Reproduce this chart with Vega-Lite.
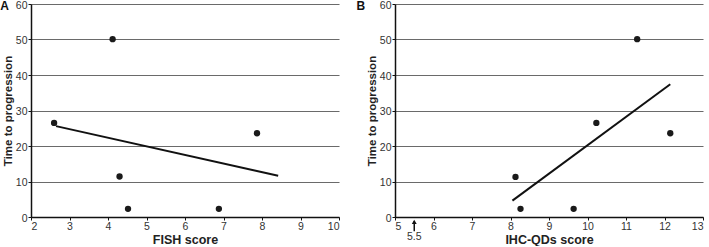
{
  "$schema": "https://vega.github.io/schema/vega-lite/v6.json",
  "background": "white",
  "padding": {"left": 0, "top": 0, "right": 2, "bottom": 0},
  "bounds": "flush",
  "spacing": 56,
  "config": {
    "font": "Liberation Sans",
    "view": {"stroke": null},
    "axis": {
      "labelFont": "Liberation Sans",
      "labelFontSize": 10.5,
      "labelColor": "#333333",
      "labelOverlap": false,
      "titleFont": "Liberation Sans",
      "titleFontSize": 11.5,
      "titleFontWeight": "bold",
      "titleColor": "#222222",
      "domainColor": "#111111",
      "domainWidth": 1.5,
      "tickColor": "#111111",
      "tickSize": 3
    }
  },
  "datasets": {
    "fishPts": [
      {"score": 2.6, "ttp": 26.5},
      {"score": 4.12, "ttp": 50.1},
      {"score": 4.3, "ttp": 11.4},
      {"score": 4.52, "ttp": 2.3},
      {"score": 6.88, "ttp": 2.3},
      {"score": 7.87, "ttp": 23.6}
    ],
    "fishLine": [
      {"score": 2.65, "ttp": 25.6},
      {"score": 8.42, "ttp": 11.6}
    ],
    "ihcPts": [
      {"score": 8.13, "ttp": 11.3},
      {"score": 8.26, "ttp": 2.3},
      {"score": 9.64, "ttp": 2.3},
      {"score": 10.23, "ttp": 26.5},
      {"score": 11.29, "ttp": 50.1},
      {"score": 12.15, "ttp": 23.6}
    ],
    "ihcLine": [
      {"score": 8.05, "ttp": 4.6},
      {"score": 12.15, "ttp": 37.4}
    ],
    "cutoff": [
      {"score": 5.5, "ttp": 0, "label": "5.5"}
    ],
    "panelA": [{"panel": "A", "score": 2, "ttp": 60}],
    "panelB": [{"panel": "B", "score": 5, "ttp": 60}]
  },
  "hconcat": [
    {
      "width": 308,
      "height": 213,
      "encoding": {
        "x": {"field": "score", "type": "quantitative",
              "scale": {"domain": [2, 10], "nice": false, "zero": false},
              "axis": {"title": "FISH score", "titleFontSize": 12.5, "values": [2,3,4,5,6,7,8,9,10], "tickCount": 9, "labelOverlap": false, "grid": false, "labelPadding": 1, "titlePadding": 2}},
        "y": {"field": "ttp", "type": "quantitative",
              "scale": {"domain": [0, 60], "nice": false},
              "axis": {"title": "Time to progression", "values": [0,10,20,30,40,50,60], "tickCount": 7, "labelOverlap": false, "grid": true, "gridColor": "#6a6a6a", "gridWidth": 1.2, "gridOpacity": 1, "labelPadding": 1, "labelOffset": 1, "titlePadding": 2}}
      },
      "layer": [
        {
          "data": {"name": "fishPts"},
          "mark": {"type": "point", "filled": true, "size": 40, "color": "#1a1a1a", "opacity": 1}
        },
        {
          "data": {"name": "fishLine"},
          "mark": {"type": "line", "color": "#111111", "strokeWidth": 2}
        },
        {
          "data": {"name": "panelA"},
          "mark": {"type": "text", "fontSize": 12, "fontWeight": "bold", "color": "#111111", "align": "left", "baseline": "middle"},
          "encoding": {
            "x": {"datum": 1.2, "type": "quantitative"},
            "y": {"datum": 59.4, "type": "quantitative"},
            "text": {"field": "panel", "type": "nominal"}
          }
        }
      ]
    },
    {
      "width": 308,
      "height": 213,
      "encoding": {
        "x": {"field": "score", "type": "quantitative",
              "scale": {"domain": [5, 13], "nice": false, "zero": false},
              "axis": {"title": "IHC-QDs score", "titleFontSize": 12.5, "values": [5,6,7,8,9,10,11,12,13], "tickCount": 9, "labelOverlap": false, "grid": false, "labelPadding": 1, "titlePadding": 2}},
        "y": {"field": "ttp", "type": "quantitative",
              "scale": {"domain": [0, 60], "nice": false},
              "axis": {"title": "Time to progression", "values": [0,10,20,30,40,50,60], "tickCount": 7, "labelOverlap": false, "grid": true, "gridColor": "#6a6a6a", "gridWidth": 1.2, "gridOpacity": 1, "labelPadding": 1, "labelOffset": 1, "titlePadding": 2}}
      },
      "layer": [
        {
          "data": {"name": "ihcPts"},
          "mark": {"type": "point", "filled": true, "size": 40, "color": "#1a1a1a", "opacity": 1}
        },
        {
          "data": {"name": "ihcLine"},
          "mark": {"type": "line", "color": "#111111", "strokeWidth": 2}
        },
        {
          "data": {"name": "cutoff"},
          "mark": {"type": "rule", "color": "#111111", "strokeWidth": 1.5},
          "encoding": {
            "y": {"datum": -4.0, "type": "quantitative"},
            "y2": {"datum": -1.2}
          }
        },
        {
          "data": {"name": "cutoff"},
          "mark": {"type": "point", "shape": "triangle-up", "filled": true, "size": 24, "color": "#111111", "opacity": 1},
          "encoding": {
            "y": {"datum": -1.4, "type": "quantitative"}
          }
        },
        {
          "data": {"name": "cutoff"},
          "mark": {"type": "text", "fontSize": 10.5, "color": "#333333", "baseline": "middle", "align": "center"},
          "encoding": {
            "y": {"datum": -5.6, "type": "quantitative"},
            "text": {"field": "label", "type": "nominal"}
          }
        },
        {
          "data": {"name": "panelB"},
          "mark": {"type": "text", "fontSize": 12, "fontWeight": "bold", "color": "#111111", "align": "left", "baseline": "middle"},
          "encoding": {
            "x": {"datum": 4.0, "type": "quantitative"},
            "y": {"datum": 59.4, "type": "quantitative"},
            "text": {"field": "panel", "type": "nominal"}
          }
        }
      ]
    }
  ]
}
